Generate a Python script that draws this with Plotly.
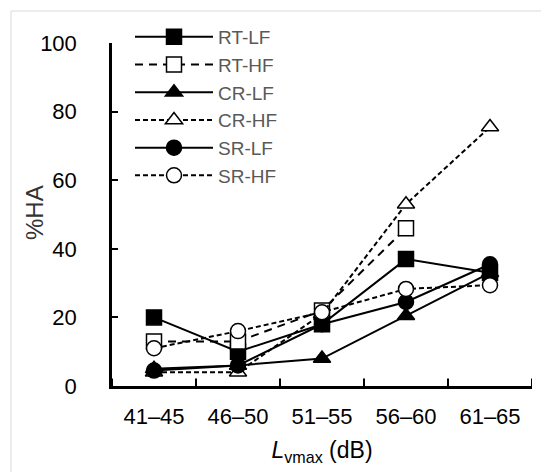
import plotly.graph_objects as go

categories = ["41–45", "46–50", "51–55", "56–60", "61–65"]
rt_lf = [20, 10, 18, 37, 33]
rt_hf = [13, 13, 22, 46, None]
cr_lf = [5, 6, 8, 20.5, 33]
cr_hf = [4, 4, 21, 53, 75.5]
sr_lf = [4.5, 6, 18, 24.5, 35.5]
sr_hf = [11, 16, 21.5, 28.3, 29.4]
y_ticks = [0, 20, 40, 60, 80, 100]

series = [
    ("RT-LF", rt_lf, "square", "black", "solid", 15),
    ("RT-HF", rt_hf, "square", "white", "8px,6px", 15),
    ("CR-LF", cr_lf, "triangle-up", "black", "solid", 15),
    ("CR-HF", cr_hf, "triangle-up", "white", "5px,3px", 15),
    ("SR-LF", sr_lf, "circle", "black", "solid", 15),
    ("SR-HF", sr_hf, "circle", "white", "5px,3px", 15),
]

fig = go.Figure()
for name, vals, sym, fill, dash, size in series:
    fig.add_trace(go.Scatter(
        x=categories, y=vals, name=name, mode="lines+markers",
        line=dict(color="black", width=2, dash=dash),
        marker=dict(symbol=sym, size=size, color=fill,
                    line=dict(color="black", width=1.5)),
    ))

# page has an 8px body margin; figure coordinates = page coordinates - 8
W, H = 541, 464
L, T = 104, 35
R = W - 524
B = H - 378
pw, ph = W - L - R, H - T - B

# outer light frame
fig.add_shape(type="rect", xref="paper", yref="paper",
              x0=(3 - L) / pw, x1=2, y0=-2, y1=(H - B - 3) / ph,
              line=dict(color="#d9d9d9", width=1), fillcolor="rgba(0,0,0,0)",
              layer="below")

font = "Liberation Sans, Arial, sans-serif"
fig.update_layout(
    width=W, height=H,
    margin=dict(l=L, r=R, t=T, b=B, autoexpand=False),
    paper_bgcolor="white", plot_bgcolor="white",
    font=dict(family=font, size=22, color="black"),
    showlegend=True,
    legend=dict(x=(122 - L) / pw, y=1 - 10 / H, xref="paper", yref="container",
                xanchor="left", yanchor="top",
                bgcolor="rgba(0,0,0,0)", font=dict(size=19, color="#595959"),
                tracegroupgap=0, itemwidth=78),
    xaxis=dict(type="category", range=[-0.5, 4.5], showgrid=False, automargin=False,
               showline=True, linecolor="black", linewidth=2.5,
               ticks="", tickfont=dict(size=22, color="black"), ticklabelstandoff=9,
               title=dict(text="<i>L</i><sub>vmax</sub> (dB)", font=dict(size=23), standoff=14)),
    yaxis=dict(range=[0, 100], tickvals=y_ticks, showgrid=False, zeroline=False,
               automargin=False,
               showline=True, linecolor="black", linewidth=2.5,
               ticks="inside", ticklen=6, tickwidth=1.5, tickcolor="black",
               tickfont=dict(size=22, color="black"), ticklabelstandoff=28),
    annotations=[dict(text="%HA", textangle=-90, xref="paper", yref="paper",
                      x=(26 - L) / pw, y=(H - B - 205) / ph, showarrow=False,
                      xanchor="center", yanchor="middle",
                      font=dict(size=24, color="#333333"))],
)

# category boundary ticks on x-axis (inside, pointing up)
for i in range(len(categories) + 1):
    fig.add_shape(type="line", xref="x", yref="paper",
                  x0=i - 0.5, x1=i - 0.5, y0=0, y1=0.022,
                  line=dict(color="black", width=2))

fig.write_html("out.html")
